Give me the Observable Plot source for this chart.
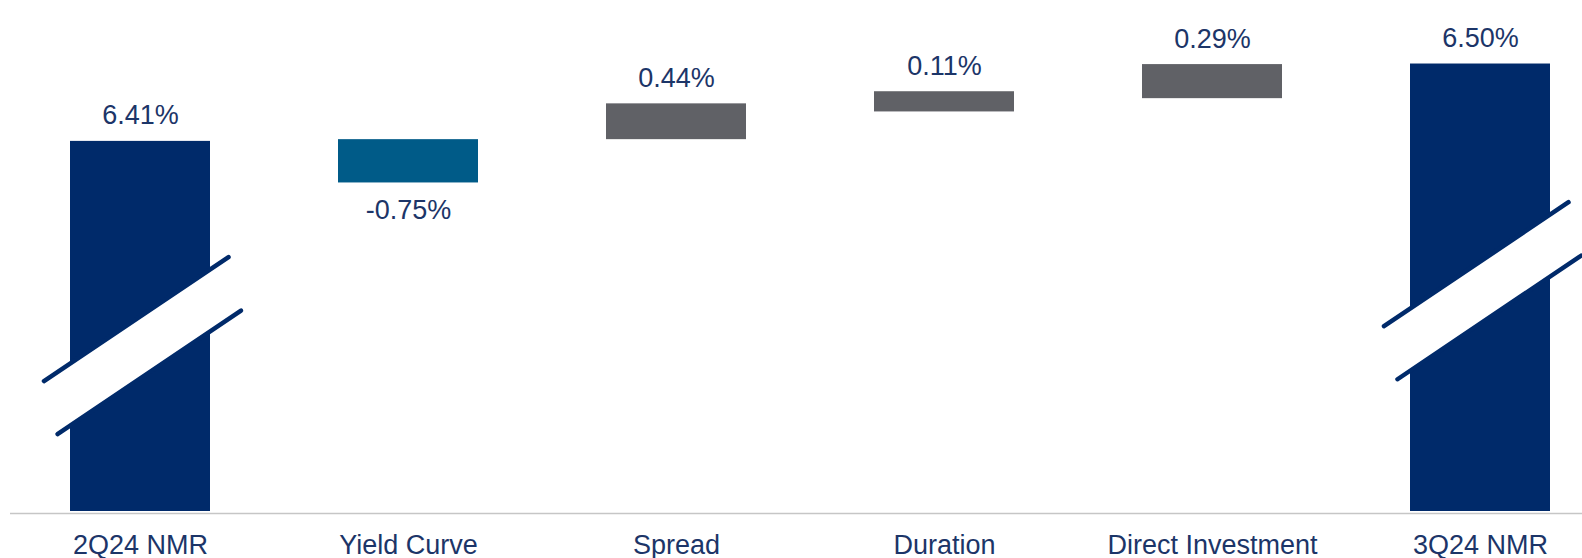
<!DOCTYPE html>
<html>
<head>
<meta charset="utf-8">
<script src="https://cdn.jsdelivr.net/npm/d3@7"></script>
<script src="https://cdn.jsdelivr.net/npm/@observablehq/plot@0.6"></script>
<style>
  html, body { margin: 0; padding: 0; background: #ffffff; }
  #chart svg { display: block; }
</style>
</head>
<body>
<div id="chart"></div>
<script>
// Categories along the x axis
const categories = ["2Q24 NMR", "Yield Curve", "Spread", "Duration", "Direct Investment", "3Q24 NMR"];
// Labelled values (percent)
const values = [6.41, -0.75, 0.44, 0.11, 0.29, 6.50];
// Bar type
const kinds = ["total", "decrease", "increase", "increase", "increase", "total"];
const barLow  = [0,    5.69, 6.44, 6.92, 7.15, 0];
const barHigh = [6.41, 6.44, 7.06, 7.27, 7.74, 7.75];
// Level of the axis-break marks on the total bars
const breakAt = [2.83, null, null, null, null, 3.78];

const kindColor = { total: "#002a6a", decrease: "#005b88", increase: "#606166" };
const textColor = "#1c3568";
const fontFamily = "'Liberation Sans', Arial, Helvetica, sans-serif";

const fmt = v => (v < 0 ? "-" : "") + Math.abs(v).toFixed(2) + "%";

const data = categories.map((cat, i) => ({
  cat,
  value: values[i],
  kind: kinds[i],
  low: barLow[i],
  high: barHigh[i],
  brk: breakAt[i],
  color: kindColor[kinds[i]],
  label: fmt(values[i])
}));

// Custom mark: axis-break symbol (white gap bordered by two slanted lines) on the total bars
function breakMarks(index, scales) {
  const x = scales.x, y = scales.y;
  const bw = x.bandwidth ? x.bandwidth() : 0;
  const k = bw / 140;
  const g = d3.create("svg:g");
  const line1 = [[-96, 33.5], [88.5, -90.5]];
  const line2 = [[-82.5, 86.5], [101, -37]];
  for (const d of data) {
    if (d.brk == null) continue;
    const cx = x(d.cat) + bw / 2;
    const cy = y(d.brk);
    const P = p => [cx + p[0] * k, cy + p[1] * k];
    const poly = [P(line1[0]), P(line1[1]), P(line2[1]), P(line2[0])];
    g.append("polygon")
      .attr("points", poly.map(p => p.join(",")).join(" "))
      .attr("fill", "#ffffff");
    for (const L of [line1, line2]) {
      const a = P(L[0]), b = P(L[1]);
      g.append("line")
        .attr("x1", a[0]).attr("y1", a[1])
        .attr("x2", b[0]).attr("y2", b[1])
        .attr("stroke", kindColor.total)
        .attr("stroke-width", 4.5)
        .attr("stroke-linecap", "round");
    }
  }
  return g.node();
}

const chart = Plot.plot({
  width: 1582,
  height: 558,
  marginTop: 0,
  marginBottom: 47,
  marginLeft: 10,
  marginRight: 0,
  style: { fontFamily, background: "#ffffff", overflow: "visible" },
  x: { domain: categories, paddingInner: 0.478, paddingOuter: 0.1685, align: 0.656 },
  y: { domain: [0, 8.85], axis: null },
  color: { type: "identity" },
  marks: [
    Plot.barY(data, { x: "cat", y1: "low", y2: "high", fill: "color" }),
    breakMarks,
    Plot.ruleY([0], { stroke: "#c6c6c6", strokeWidth: 1.6, dy: 2 }),
    Plot.text(data.filter(d => d.value >= 0), {
      x: "cat", y: "high", text: "label", dy: -17, lineAnchor: "bottom",
      fontSize: 27, fill: textColor
    }),
    Plot.text(data.filter(d => d.value < 0), {
      x: "cat", y: "low", text: "label", dy: 36.5, lineAnchor: "bottom",
      fontSize: 27, fill: textColor
    }),
    Plot.axisX({ tickSize: 0, tickPadding: 23, fontSize: 27, fill: textColor, color: textColor, label: null })
  ]
});

document.getElementById("chart").appendChild(chart);
</script>
</body>
</html>
